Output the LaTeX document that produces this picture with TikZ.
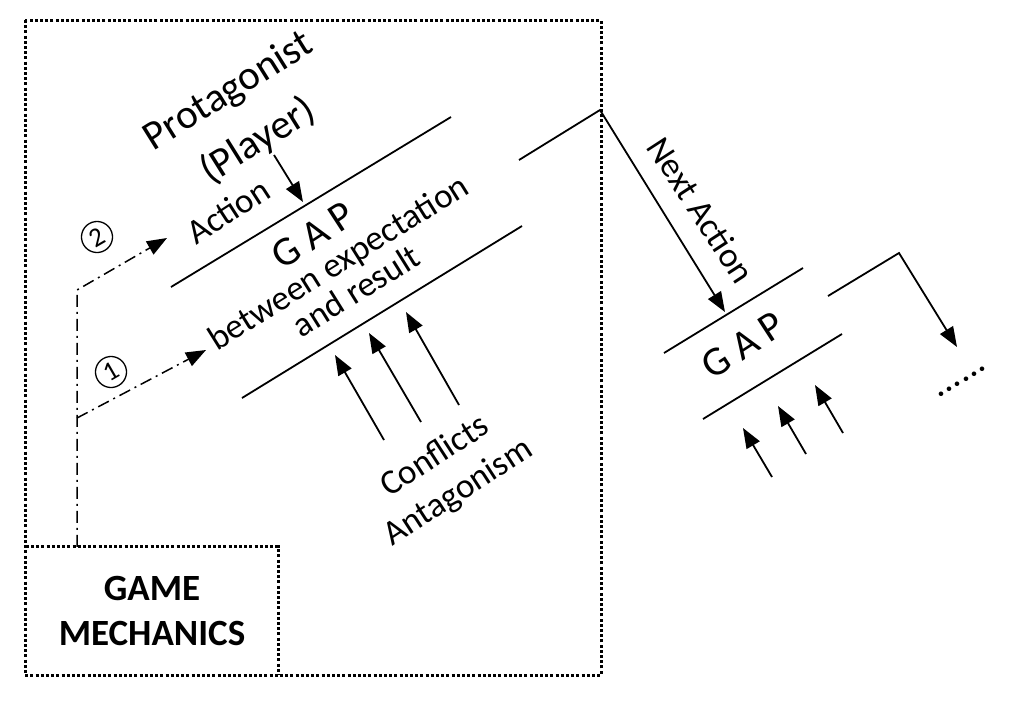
\documentclass[tikz,border=0pt]{standalone}
\usepackage{fontspec}
\setmainfont{Carlito}
\usepackage{tikz}
\usetikzlibrary{calc,arrows.meta,positioning}

\tikzset{
  bar/.style={line width=1.8pt},
  push/.style={line width=1.8pt, -{Triangle[length=20pt,width=15pt]}},
  feed/.style={line width=1.5pt, dash pattern=on 12pt off 5pt on 2pt off 5pt, -{Triangle[length=20pt,width=15pt]}},
  frame/.style={line width=3pt, dash pattern=on 3pt off 2.2pt},
  lbl/.style={inner sep=0pt, align=center, font=\fontsize{35}{34}\selectfont},
  big/.style={inner sep=0pt, align=center, font=\fontsize{41}{40}\selectfont},
  stepnum/.style={circle, draw, line width=1.3pt, inner sep=0pt, minimum size=31pt,
                  font=\fontsize{27}{27}\selectfont},
}

\begin{document}
\begin{tikzpicture}[x=1pt, y=-1pt]
   \useasboundingbox (0,0) rectangle (1011,702);

   %frames
   \draw[frame] (25,20) rectangle (601,675);
   \node[minimum width=252pt, minimum height=128pt, align=center,
         font=\fontsize{37}{45}\selectfont\bfseries] (mech) at (152,611) {GAME\\MECHANICS};
   \draw[frame] (mech.north west) -- (mech.north east) -- (mech.south east);

   %first gap
   \coordinate (gA1) at (171,287);
   \coordinate (gA2) at (451,117);
   \coordinate (gB1) at (242,398);
   \coordinate (gB2) at (522,226);
   \node[big, rotate=32] (prot) at (229,92) {Protagonist};
   \node[big, rotate=32] (player) at (258,141) {(Player)};
   \node[lbl, rotate=33] (action) at (228,211) {Action};
   \node[big, rotate=33] (gapL) at (313,235) {G A P};
   \node[lbl, rotate=32] (betw) at (347,276) {between expectation\\and result};
   \node[lbl, rotate=33, font=\fontsize{35}{43}\selectfont] (confl) at (447,475) {Conflicts\\Antagonism};
   \coordinate (pl0) at (274,155);
   \coordinate (pl1) at (303,202);

   %conflict arrows
   \coordinate (cf1) at (384,440);
   \coordinate (ct1) at (335,355);
   \coordinate (cf2) at (421,422);
   \coordinate (ct2) at (369,333);
   \coordinate (cf3) at (459,405);
   \coordinate (ct3) at (406,312);

   %feedback from game mechanics
   \coordinate (fb0) at ([xshift=-75pt]mech.north);
   \coordinate (fb1) at (77,418);
   \coordinate (fb2) at (77,290);
   \coordinate (fbt1) at (206,350);
   \coordinate (fbt2) at (167,238);
   \node[stepnum, rotate=30] (num1) at (111,372) {1};
   \node[stepnum, rotate=30] (num2) at (97,237) {2};

   %next gap
   \coordinate (nC1) at (519,160);
   \coordinate (peak1) at (600,110);
   \coordinate (nt1) at (725,312);
   \node[lbl, rotate=-57] (next) at (701,210) {Next Action};
   \coordinate (gD1) at (664,353);
   \coordinate (gD2) at (803,268);
   \coordinate (gE1) at (703,419);
   \coordinate (gE2) at (842,334);
   \node[big, rotate=33] (gapR) at (743,345) {G A P};
   \coordinate (nF1) at (828,296);
   \coordinate (peak2) at (899,253);
   \coordinate (nt2) at (957,347);
   \node[lbl, rotate=32, font=\fontsize{38}{38}\selectfont] (more) at (962,382) {......};
   \coordinate (rf1) at (772,477);
   \coordinate (rt1) at (743,428);
   \coordinate (rf2) at (806,454);
   \coordinate (rt2) at (778,406);
   \coordinate (rf3) at (843,433);
   \coordinate (rt3) at (815,385);

   %bars
   \draw[bar] (gA1) -- (gA2);
   \draw[bar] (gB1) -- (gB2);
   \draw[bar] (gD1) -- (gD2);
   \draw[bar] (gE1) -- (gE2);

   %arrows
   \draw[push] (pl0) -- (pl1);
   \draw[push] (cf1) -- (ct1);
   \draw[push] (cf2) -- (ct2);
   \draw[push] (cf3) -- (ct3);
   \draw[push] (nC1) -- (peak1) -- (nt1);
   \draw[push] (nF1) -- (peak2) -- (nt2);
   \draw[push] (rf1) -- (rt1);
   \draw[push] (rf2) -- (rt2);
   \draw[push] (rf3) -- (rt3);

   %dash dot feedback
   \draw[feed] (fb0) -- (fb2) -- (fbt2);
   \draw[feed] (fb1) -- (fbt1);
\end{tikzpicture}
\end{document}
